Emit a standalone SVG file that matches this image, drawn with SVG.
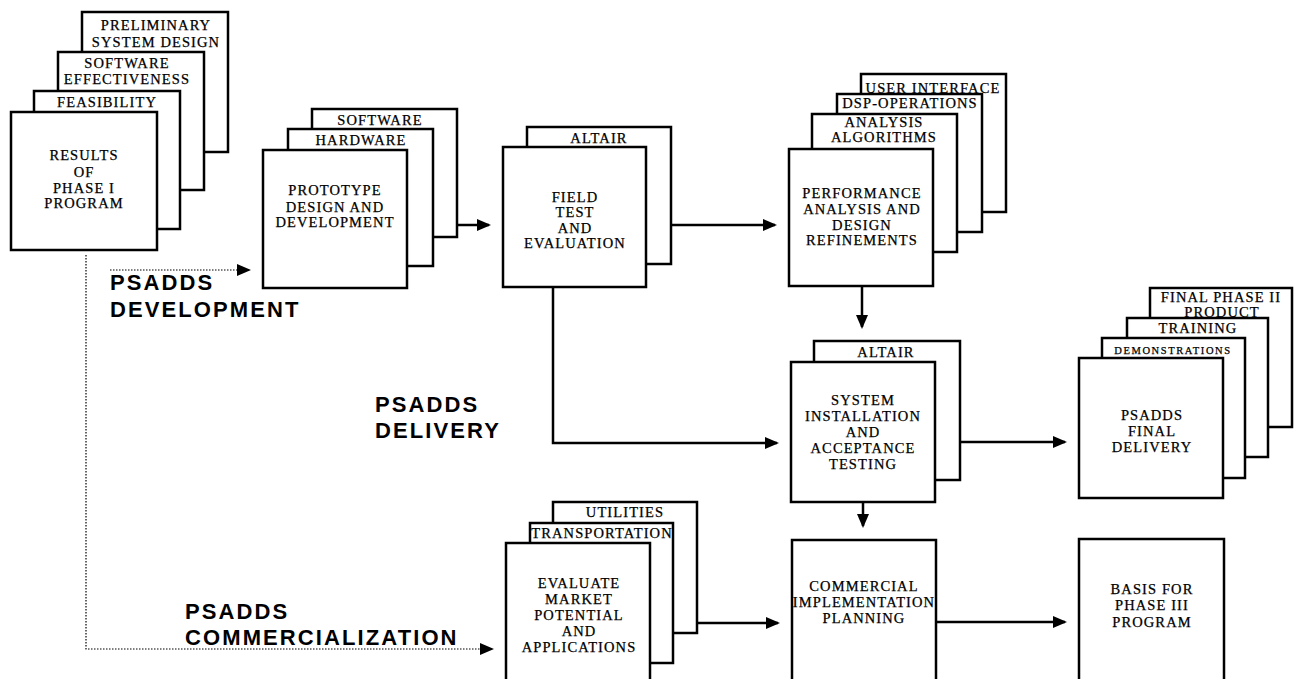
<svg xmlns="http://www.w3.org/2000/svg" width="1295" height="679" viewBox="0 0 1295 679">
<style>
.b{fill:#fff;stroke:#000;stroke-width:2.5}
.t{font-family:"Liberation Serif","Times New Roman",serif;font-size:14.5px;letter-spacing:1.1px;text-anchor:middle;fill:#000;stroke:#000;stroke-width:0.25}
.s{font-size:10.5px;letter-spacing:1.6px}
.lab{font-family:"Liberation Sans",Arial,sans-serif;font-size:22px;font-weight:bold;letter-spacing:2.1px;fill:#000}
.c{fill:none;stroke:#000;stroke-width:2.5}
.d{fill:none;stroke:#000;stroke-width:1.2;stroke-dasharray:1.5 1.5}
</style>
<defs>
<marker id="arr" viewBox="0 0 14 12" refX="12" refY="6" markerWidth="14" markerHeight="12" markerUnits="userSpaceOnUse" orient="auto">
<path d="M0,0 L14,6 L0,12 z" fill="#000"/>
</marker>
</defs>
<rect width="1295" height="679" fill="#fff"/>

<g id="connectors">
<path class="d" d="M86,255 V649 H492" marker-end="url(#arr)"/>
<path class="d" d="M110,270 H249" marker-end="url(#arr)"/>
<path class="c" d="M457,225 H489" marker-end="url(#arr)"/>
<path class="c" d="M671,225 H775" marker-end="url(#arr)"/>
<path class="c" d="M862,286 V327" marker-end="url(#arr)"/>
<path class="c" d="M553,287 V443 H777" marker-end="url(#arr)"/>
<path class="c" d="M960,442 H1065" marker-end="url(#arr)"/>
<path class="c" d="M863,502 V526" marker-end="url(#arr)"/>
<path class="c" d="M697,623 H778" marker-end="url(#arr)"/>
<path class="c" d="M936,622 H1065" marker-end="url(#arr)"/>
</g>

<g id="results">
<rect class="b" x="82" y="12" width="146" height="140"/>
<text class="t" x="156" y="30">PRELIMINARY</text>
<text class="t" x="156" y="47">SYSTEM DESIGN</text>
<rect class="b" x="58" y="52" width="146" height="138"/>
<text class="t" x="127" y="68">SOFTWARE</text>
<text class="t" x="127" y="84">EFFECTIVENESS</text>
<rect class="b" x="34" y="91" width="146" height="138"/>
<text class="t" x="107" y="107">FEASIBILITY</text>
<rect class="b" x="11" y="112" width="146" height="138"/>
<text class="t" x="84" y="160">RESULTS</text>
<text class="t" x="84" y="177">OF</text>
<text class="t" x="84" y="193">PHASE I</text>
<text class="t" x="84" y="208">PROGRAM</text>
</g>

<g id="prototype">
<rect class="b" x="312" y="109" width="145" height="128"/>
<text class="t" x="380" y="125">SOFTWARE</text>
<rect class="b" x="288" y="129" width="145" height="137"/>
<text class="t" x="361" y="145">HARDWARE</text>
<rect class="b" x="263" y="150" width="144" height="138"/>
<text class="t" x="335" y="195">PROTOTYPE</text>
<text class="t" x="335" y="212">DESIGN AND</text>
<text class="t" x="335" y="227">DEVELOPMENT</text>
</g>

<g id="fieldtest">
<rect class="b" x="527" y="127" width="144" height="137"/>
<text class="t" x="599" y="143">ALTAIR</text>
<rect class="b" x="503" y="147" width="143" height="140"/>
<text class="t" x="575" y="202">FIELD</text>
<text class="t" x="575" y="217">TEST</text>
<text class="t" x="575" y="233">AND</text>
<text class="t" x="575" y="248">EVALUATION</text>
</g>

<g id="performance">
<rect class="b" x="861" y="74" width="145" height="138"/>
<text class="t" x="933" y="93">USER INTERFACE</text>
<rect class="b" x="837" y="94" width="145" height="138"/>
<text class="t" x="910" y="108">DSP-OPERATIONS</text>
<rect class="b" x="812" y="114" width="145" height="138"/>
<text class="t" x="884" y="127">ANALYSIS</text>
<text class="t" x="884" y="142">ALGORITHMS</text>
<rect class="b" x="789" y="149" width="144" height="137"/>
<text class="t" x="862" y="198">PERFORMANCE</text>
<text class="t" x="862" y="214">ANALYSIS AND</text>
<text class="t" x="862" y="230">DESIGN</text>
<text class="t" x="862" y="245">REFINEMENTS</text>
</g>

<g id="system">
<rect class="b" x="814" y="341" width="146" height="139"/>
<text class="t" x="886" y="357">ALTAIR</text>
<rect class="b" x="791" y="362" width="144" height="140"/>
<text class="t" x="863" y="405">SYSTEM</text>
<text class="t" x="863" y="421">INSTALLATION</text>
<text class="t" x="863" y="437">AND</text>
<text class="t" x="863" y="453">ACCEPTANCE</text>
<text class="t" x="863" y="469">TESTING</text>
</g>

<g id="finaldelivery">
<rect class="b" x="1150" y="288" width="142" height="139"/>
<text class="t" x="1221" y="302">FINAL PHASE II</text>
<text class="t" x="1222" y="317">PRODUCT</text>
<rect class="b" x="1127" y="318" width="141" height="139"/>
<text class="t" x="1198" y="333">TRAINING</text>
<rect class="b" x="1102" y="338" width="143" height="140"/>
<text class="t s" x="1173" y="354">DEMONSTRATIONS</text>
<rect class="b" x="1079" y="358" width="144" height="140"/>
<text class="t" x="1152" y="420">PSADDS</text>
<text class="t" x="1152" y="436">FINAL</text>
<text class="t" x="1152" y="452">DELIVERY</text>
</g>

<g id="evaluate">
<rect class="b" x="553" y="502" width="144" height="131"/>
<text class="t" x="625" y="517">UTILITIES</text>
<rect class="b" x="530" y="523" width="143" height="140"/>
<text class="t" x="602" y="538">TRANSPORTATION</text>
<rect class="b" x="506" y="543" width="144" height="150"/>
<text class="t" x="579" y="588">EVALUATE</text>
<text class="t" x="579" y="604">MARKET</text>
<text class="t" x="579" y="620">POTENTIAL</text>
<text class="t" x="579" y="636">AND</text>
<text class="t" x="579" y="652">APPLICATIONS</text>
</g>

<g id="commercial">
<rect class="b" x="792" y="540" width="144" height="150"/>
<text class="t" x="864" y="591">COMMERCIAL</text>
<text class="t" x="864" y="607">IMPLEMENTATION</text>
<text class="t" x="864" y="623">PLANNING</text>
</g>

<g id="basis">
<rect class="b" x="1079" y="539" width="145" height="150"/>
<text class="t" x="1152" y="594">BASIS FOR</text>
<text class="t" x="1152" y="610">PHASE III</text>
<text class="t" x="1152" y="627">PROGRAM</text>
</g>

<g id="labels">
<text class="lab" x="110" y="290">PSADDS</text>
<text class="lab" x="110" y="317">DEVELOPMENT</text>
<text class="lab" x="375" y="412">PSADDS</text>
<text class="lab" x="375" y="438">DELIVERY</text>
<text class="lab" x="185" y="619">PSADDS</text>
<text class="lab" x="185" y="645">COMMERCIALIZATION</text>
</g>
</svg>
